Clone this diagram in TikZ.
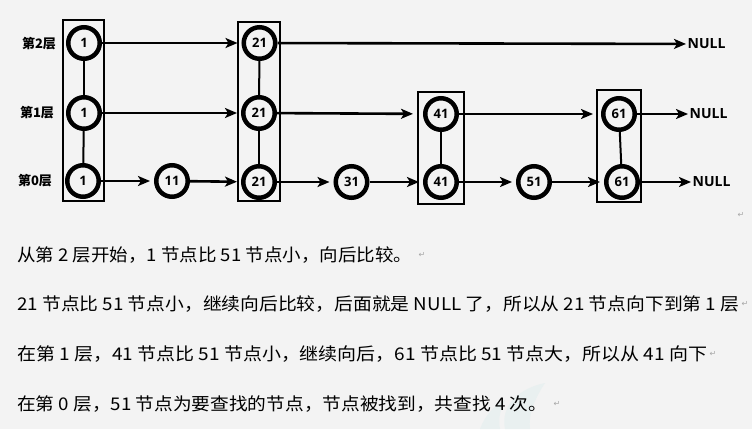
\documentclass[tikz,border=0pt]{standalone}
\usepackage{fontspec}
\setmainfont{Open Sans}
\newfontfamily\cjk{Noto Sans CJK SC}
\newfontfamily\dejavu{DejaVu Sans}
\usetikzlibrary{arrows.meta}
\definecolor{bg}{RGB}{243,243,243}
\definecolor{wm}{RGB}{233,240,240}
\tikzset{
  nd/.style={circle,draw,line width=4.5pt,minimum size=31.5pt,inner sep=0pt,
    font=\fontsize{13}{15}\selectfont\bfseries},
  grp/.style={draw,line width=1.8pt},
  arr/.style={-{Stealth[length=12pt,width=10pt,inset=3pt]},line width=2.6pt},
  arrs/.style={arr,shorten >=4pt},
  vl/.style={line width=2pt},
  nul/.style={anchor=west,inner sep=1.5pt,font=\fontsize{14}{16}\selectfont\bfseries},
  lay/.style={font=\cjk\fontsize{13}{15}\selectfont\bfseries},
  txt/.style={anchor=west,inner sep=0pt,font=\cjk\fontsize{17.5}{20}\selectfont},
  pm/.style={inner sep=0pt,text=gray!70,font=\dejavu\fontsize{8}{9}\selectfont}
}
\begin{document}
\begin{tikzpicture}[x=1pt,y=-1pt]
\fill[bg] (0,0) rectangle (752,429);
\useasboundingbox (0,0) rectangle (752,429);
% faint watermark
\fill[wm] (505,429) .. controls (500,405) and (520,388) .. (545,383) .. controls (535,398) and (528,415) .. (530,429) -- cycle;
\fill[wm] (480,429) .. controls (485,415) and (495,405) .. (505,400) .. controls (500,410) and (498,420) .. (500,429) -- cycle;
% layer labels
\node[lay] (L2) at (39,44) {第2层};
\node[lay] (L1) at (37,113) {第1层};
\node[lay] (L0) at (35,181) {第0层};
% groups
\draw[grp] (63,20) rectangle (104,201);
\draw[grp] (238,22) rectangle (280,201);
\draw[grp] (418,92) rectangle (464,204);
\draw[grp] (597,90) rectangle (641,202);
% nodes
\node[nd] (a2) at (84,43) {1};
\node[nd] (a1) at (84,113) {1};
\node[nd] (a0) at (83,181) {1};
\node[nd] (b0) at (172,181) {11};
\node[nd] (c2) at (259.5,43) {21};
\node[nd] (c1) at (259,113) {21};
\node[nd] (c0) at (259,182) {21};
\node[nd] (d0) at (351.5,182) {31};
\node[nd] (e1) at (441,114) {41};
\node[nd] (e0) at (441,182) {41};
\node[nd] (f0) at (534,182) {51};
\node[nd] (g1) at (619,114) {61};
\node[nd] (g0) at (622,182) {61};
\node[nul] (n2) at (686,44) {NULL};
\node[nul] (n1) at (688,114) {NULL};
\node[nul] (n0) at (691,182) {NULL};
% vertical links
\draw[vl] (a2) -- (a1);
\draw[vl] (a1) -- (a0);
\draw[vl] (c2) -- (c1);
\draw[vl] (c1) -- (c0);
\draw[vl] (e1) -- (e0);
\draw[vl] (g1) -- (g0);
% level 2
\draw[arrs] (a2) -- (c2);
\draw[arr] (c2) -- (n2);
% level 1
\draw[arrs] (a1) -- (c1);
\draw[arrs,shorten >=10pt] (c1) -- (e1);
\draw[arrs,shorten >=8pt] (e1) -- (g1);
\draw[arr] (g1) -- (n1);
% level 0
\draw[arrs] (a0) -- (b0);
\draw[arrs] (b0) -- (c0);
\draw[arrs] (c0) -- (d0);
\draw[arrs] (d0) -- (e0);
\draw[arrs] (e0) -- (f0);
\draw[arrs] (f0) -- (g0);
\draw[arr] (g0) -- (n0);
% paragraph marks
\node[pm] (p0) at (741,215) {↵};
% text
\node[txt] (t1) at (17,255) {\resizebox{395pt}{\height}{从第 2 层开始，1 节点比 51 节点小，向后比较。}};
\node[txt] (t2) at (17,304) {\resizebox{722pt}{\height}{21 节点比 51 节点小，继续向后比较，后面就是 NULL 了，所以从 21 节点向下到第 1 层}};
\node[txt] (t3) at (17,354) {\resizebox{690pt}{\height}{在第 1 层，41 节点比 51 节点小，继续向后，61 节点比 51 节点大，所以从 41 向下}};
\node[txt] (t4) at (17,404) {\resizebox{530pt}{\height}{在第 0 层，51 节点为要查找的节点，节点被找到，共查找 4 次。}};
\node[pm,anchor=west] (p1) at ([xshift=6pt]t1.east) {↵};
\node[pm,anchor=west] (p2) at ([xshift=2pt]t2.east) {↵};
\node[pm,anchor=west] (p3) at ([xshift=2pt]t3.east) {↵};
\node[pm,anchor=west] (p4) at ([xshift=6pt]t4.east) {↵};
\end{tikzpicture}
\end{document}
